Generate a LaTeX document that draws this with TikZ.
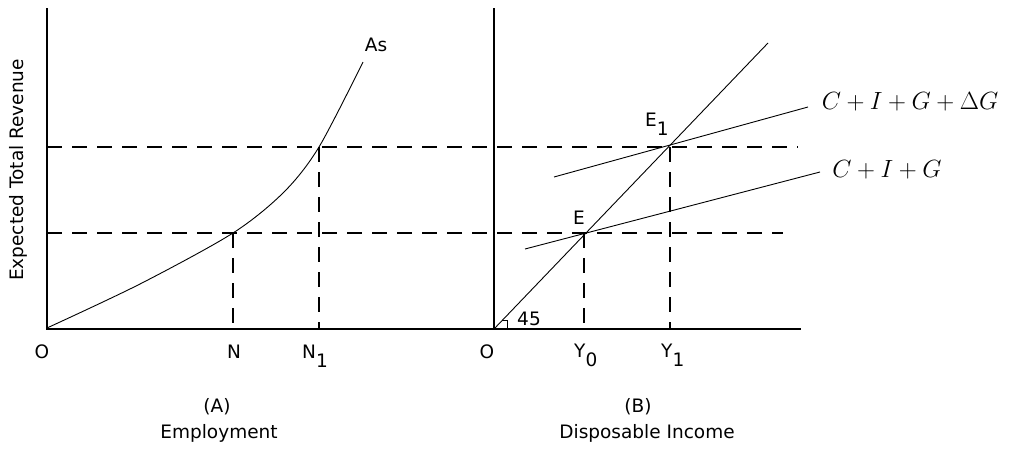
\documentclass[tikz,border=0pt]{standalone}
\usepackage{fontspec}
\setmainfont{DejaVu Sans}
\begin{document}
\begin{tikzpicture}[x=1pt,y=-1pt,
  axisline/.style={line width=1.5pt},
  curveline/.style={line width=0.9pt},
  dashline/.style={line width=1.2pt,dash pattern=on 15pt off 10pt},
  lbl/.style={inner sep=0pt,font=\fontsize{18.5}{22}\selectfont},
  mathlbl/.style={inner sep=0pt,font=\fontsize{24}{28}\selectfont}]
\useasboundingbox (0,0) rectangle (1021,450);
% key points
\coordinate (Otop) at (47,8);
\coordinate (O) at (47,329);
\coordinate (Xend) at (801,329);
\coordinate (O2top) at (494,8);
\coordinate (O2) at (494,329);
\coordinate (Pn) at (233,233);
\coordinate (Pn1) at (319,147);
\coordinate (Nb) at (233,329);
\coordinate (N1b) at (319,329);
\coordinate (E) at (584,233);
\coordinate (E1) at (670,147);
\coordinate (Y0b) at (584,329);
\coordinate (Y1b) at (670,329);
\coordinate (Hup) at (798,147);
\coordinate (Hlo) at (783,233);
\coordinate (Lup) at (47,147);
\coordinate (Llo) at (47,233);
\coordinate (Dtop) at (768,43);
\coordinate (CIGa) at (525,249);
\coordinate (CIGb) at (820,172);
\coordinate (CIGDa) at (554,177);
\coordinate (CIGDb) at (808,107);
% axes
\draw[axisline] (Otop) -- (O) -- (Xend);
\draw[axisline] (O2top) -- (O2);
% dashed guides
\draw[dashline] (Lup) -- (Hup);
\draw[dashline] (Llo) -- (Hlo);
\draw[dashline] (Pn) -- (Nb);
\draw[dashline] (Pn1) -- (N1b);
\draw[dashline] (E) -- (Y0b);
\draw[dashline] (E1) -- (Y1b);
% As curve
\draw[curveline] plot[smooth,tension=0.5] coordinates {(47,328) (140,284) (233,233) (284,192) (319,147) (363,62)};
% 45 line and spending lines
\draw[curveline] (O2) -- (Dtop);
\draw[curveline] (CIGa) -- (CIGb);
\draw[curveline] (CIGDa) -- (CIGDb);
% angle mark
\draw[line width=0.9pt] (507,329) -- (507,320) -- (502,320);
% labels
\node[lbl] (las) at (376,45) {As};
\node[lbl,rotate=90] (ylab) at (18,170) {Expected Total Revenue};
\node[lbl] (lO) at (42,352) {O};
\node[lbl] (lN) at (234,352) {N};
\node[lbl,anchor=base west] (lN1) at (302,358) {N\raisebox{-9pt}{1}};
\node[lbl] (lO2) at (487,352) {O};
\node[lbl,anchor=base west] (lY0) at (574,357) {Y\raisebox{-9pt}{0}};
\node[lbl,anchor=base west] (lY1) at (661,357) {Y\raisebox{-9pt}{1}};
\node[lbl] (lE) at (579,218) {E};
\node[lbl,anchor=base west] (lE1) at (645,126) {E\raisebox{-9pt}{1}};
\node[lbl] (l45) at (529,319) {45};
\node[lbl] (lA) at (217,407) {(A)};
\node[lbl] (lEmp) at (219,433) {Employment};
\node[lbl] (lB) at (638,407) {(B)};
\node[lbl] (lDI) at (647,433) {Disposable Income};
\node[mathlbl] (lcigd) at (910,102) {$C+I+G+\Delta G$};
\node[mathlbl] (lcig) at (887,170) {$C+I+G$};
\end{tikzpicture}
\end{document}
